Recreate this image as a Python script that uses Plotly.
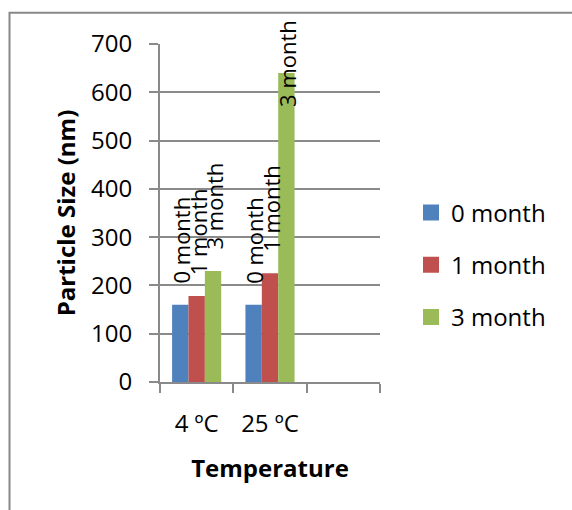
import plotly.graph_objects as go

# Data: particle size (nm) after storage at each temperature
temperatures = ["4 ºC", "25 ºC", " "]
series_names = ["0 month", "1 month", "3 month"]
size_0_month = [160, 160, None]
size_1_month = [178, 225, None]
size_3_month = [230, 640, None]
y_tick_values = [0, 100, 200, 300, 400, 500, 600, 700]

series_values = [size_0_month, size_1_month, size_3_month]
series_colors = ["#4F81BD", "#C0504D", "#9BBB59"]

# Canvas geometry (pixels)
W, H = 572, 510
M_L, M_R, M_T, M_B = 160, 192, 44, 128
PLOT_W = W - M_L - M_R
PLOT_H = H - M_T - M_B
Y_MAX = 700
BARGAP = 0.33
FONT = "Open Sans"
GRID = "#8a8a8a"

fig = go.Figure()

for name, vals, color in zip(series_names, series_values, series_colors):
    fig.add_trace(go.Bar(
        x=temperatures, y=vals, name=name,
        marker=dict(color=color, line=dict(width=0)),
        showlegend=False,
    ))

# Legend entries with larger square swatches
for i, (name, color) in enumerate(zip(series_names, series_colors)):
    fig.add_trace(go.Scatter(
        x=[None], y=[None], mode="markers", name=name,
        marker=dict(symbol="square", size=16, color=color),
        legendgroup=f"g{i}", showlegend=True,
    ))

# Rotated data labels above each bar, kept inside the chart frame
px_per_unit = PLOT_H / Y_MAX
label_gap = 19
label_len = 87
top_limit = PLOT_H + 22  # pixels above the zero line
bar_w = (1 - BARGAP) / len(series_names)
annotations = []
for j, (name, vals) in enumerate(zip(series_names, series_values)):
    for i, v in enumerate(vals):
        if v is None:
            continue
        shift = label_gap
        if v * px_per_unit + label_gap + label_len > top_limit:
            shift = top_limit - label_len - v * px_per_unit
        annotations.append(dict(
            x=i + (j - 1) * bar_w, y=v, xref="x", yref="y",
            text=name, showarrow=False, textangle=-90,
            xanchor="center", yanchor="bottom", yshift=shift, xshift=1,
            font=dict(family=FONT, size=22, color="black"),
        ))

# Outer chart frame (left and top edges visible)
def px_x(p):
    return (p - M_L) / PLOT_W

def px_y(p):
    return (H - M_B - p) / PLOT_H

fig.add_shape(type="rect", xref="paper", yref="paper",
              x0=px_x(9.5), x1=px_x(700), y0=px_y(700), y1=px_y(12.7),
              line=dict(color="#888888", width=2), fillcolor="rgba(0,0,0,0)",
              layer="below")

fig.update_layout(
    width=W, height=H,
    margin=dict(l=M_L, r=M_R, t=M_T, b=M_B, pad=0),
    paper_bgcolor="white", plot_bgcolor="white",
    barmode="group", bargap=BARGAP, bargroupgap=0,
    font=dict(family=FONT, size=24, color="black"),
    annotations=annotations,
    legend=dict(
        x=px_x(411), y=px_y(265), xanchor="left", yanchor="middle",
        font=dict(family=FONT, size=24, color="black"),
        tracegroupgap=18, bgcolor="rgba(0,0,0,0)",
    ),
    xaxis=dict(
        type="category", categoryorder="array", categoryarray=temperatures,
        range=[-0.5, 2.5], tickson="boundaries",
        ticks="outside", ticklen=9, tickwidth=2, tickcolor=GRID,
        showline=True, linecolor=GRID, linewidth=2,
        showgrid=False, zeroline=False,
        ticklabelstandoff=19,
        tickfont=dict(family=FONT, size=24),
        title=dict(text="<b>Temperature</b>", standoff=22,
                   font=dict(family=FONT, size=24)),
    ),
    yaxis=dict(
        range=[0, Y_MAX], tickvals=y_tick_values,
        ticks="outside", ticklen=9, tickwidth=2, tickcolor=GRID,
        showline=True, linecolor=GRID, linewidth=2,
        showgrid=True, gridcolor=GRID, gridwidth=2,
        zeroline=False,
        ticklabelstandoff=12,
        tickfont=dict(family=FONT, size=24),
        title=dict(text="<b>Particle Size (nm)</b>", standoff=9,
                   font=dict(family=FONT, size=24)),
    ),
)

fig.write_html("out.html")
